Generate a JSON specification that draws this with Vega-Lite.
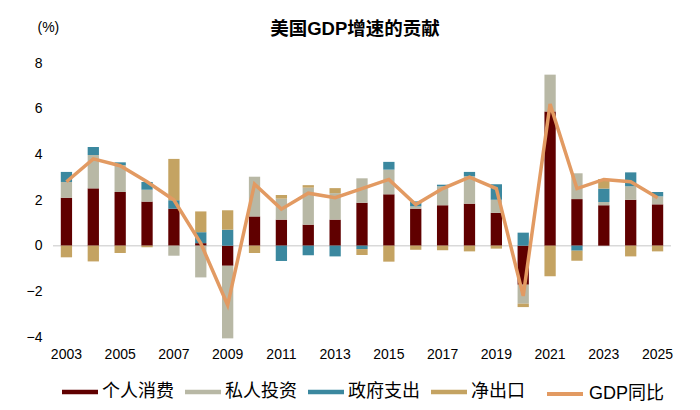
{
  "$schema": "https://vega.github.io/schema/vega-lite/v6.json",
  "autosize": {"type": "none"},
  "padding": {"left": 53, "top": 63, "right": 29, "bottom": 73},
  "width": 618,
  "height": 274,
  "background": "white",
  "title": {
    "text": "美国GDP增速的贡献",
    "fontSize": 18.5,
    "fontWeight": "bold",
    "font": "Liberation Sans, Noto Sans CJK SC",
    "color": "#000000",
    "anchor": "middle",
    "dx": -7,
    "offset": 0,
    "dy": 18
  },
  "datasets": {
    "parts": [
      {"year": 2003, "part": "个人消费", "k": 1, "v": 2.1}, {"year": 2003, "part": "私人投资", "k": 2, "v": 0.69}, {"year": 2003, "part": "政府支出", "k": 3, "v": 0.44}, {"year": 2003, "part": "净出口", "k": 4, "v": -0.51},
      {"year": 2004, "part": "个人消费", "k": 1, "v": 2.51}, {"year": 2004, "part": "私人投资", "k": 2, "v": 1.46}, {"year": 2004, "part": "政府支出", "k": 3, "v": 0.35}, {"year": 2004, "part": "净出口", "k": 4, "v": -0.69},
      {"year": 2005, "part": "个人消费", "k": 1, "v": 2.35}, {"year": 2005, "part": "私人投资", "k": 2, "v": 1.18}, {"year": 2005, "part": "政府支出", "k": 3, "v": 0.12}, {"year": 2005, "part": "净出口", "k": 4, "v": -0.32},
      {"year": 2006, "part": "个人消费", "k": 1, "v": 1.93}, {"year": 2006, "part": "私人投资", "k": 2, "v": 0.52}, {"year": 2006, "part": "政府支出", "k": 3, "v": 0.34}, {"year": 2006, "part": "净出口", "k": 4, "v": -0.07},
      {"year": 2007, "part": "个人消费", "k": 1, "v": 1.62}, {"year": 2007, "part": "私人投资", "k": 2, "v": -0.44}, {"year": 2007, "part": "政府支出", "k": 3, "v": 0.37}, {"year": 2007, "part": "净出口", "k": 4, "v": 1.81},
      {"year": 2008, "part": "个人消费", "k": 1, "v": 0.11}, {"year": 2008, "part": "私人投资", "k": 2, "v": -1.39}, {"year": 2008, "part": "政府支出", "k": 3, "v": 0.48}, {"year": 2008, "part": "净出口", "k": 4, "v": 0.91},
      {"year": 2009, "part": "个人消费", "k": 1, "v": -0.88}, {"year": 2009, "part": "私人投资", "k": 2, "v": -3.18}, {"year": 2009, "part": "政府支出", "k": 3, "v": 0.7}, {"year": 2009, "part": "净出口", "k": 4, "v": 0.85},
      {"year": 2010, "part": "个人消费", "k": 1, "v": 1.28}, {"year": 2010, "part": "私人投资", "k": 2, "v": 1.74}, {"year": 2010, "part": "政府支出", "k": 3, "v": 0.0}, {"year": 2010, "part": "净出口", "k": 4, "v": -0.32},
      {"year": 2011, "part": "个人消费", "k": 1, "v": 1.14}, {"year": 2011, "part": "私人投资", "k": 2, "v": 0.92}, {"year": 2011, "part": "政府支出", "k": 3, "v": -0.67}, {"year": 2011, "part": "净出口", "k": 4, "v": 0.16},
      {"year": 2012, "part": "个人消费", "k": 1, "v": 0.92}, {"year": 2012, "part": "私人投资", "k": 2, "v": 1.62}, {"year": 2012, "part": "政府支出", "k": 3, "v": -0.42}, {"year": 2012, "part": "净出口", "k": 4, "v": 0.11},
      {"year": 2013, "part": "个人消费", "k": 1, "v": 1.14}, {"year": 2013, "part": "私人投资", "k": 2, "v": 1.16}, {"year": 2013, "part": "政府支出", "k": 3, "v": -0.47}, {"year": 2013, "part": "净出口", "k": 4, "v": 0.22},
      {"year": 2014, "part": "个人消费", "k": 1, "v": 1.88}, {"year": 2014, "part": "私人投资", "k": 2, "v": 1.07}, {"year": 2014, "part": "政府支出", "k": 3, "v": -0.15}, {"year": 2014, "part": "净出口", "k": 4, "v": -0.26},
      {"year": 2015, "part": "个人消费", "k": 1, "v": 2.25}, {"year": 2015, "part": "私人投资", "k": 2, "v": 1.08}, {"year": 2015, "part": "政府支出", "k": 3, "v": 0.34}, {"year": 2015, "part": "净出口", "k": 4, "v": -0.7},
      {"year": 2016, "part": "个人消费", "k": 1, "v": 1.62}, {"year": 2016, "part": "私人投资", "k": 2, "v": 0.1}, {"year": 2016, "part": "政府支出", "k": 3, "v": 0.22}, {"year": 2016, "part": "净出口", "k": 4, "v": -0.18},
      {"year": 2017, "part": "个人消费", "k": 1, "v": 1.77}, {"year": 2017, "part": "私人投资", "k": 2, "v": 0.83}, {"year": 2017, "part": "政府支出", "k": 3, "v": 0.07}, {"year": 2017, "part": "净出口", "k": 4, "v": -0.2},
      {"year": 2018, "part": "个人消费", "k": 1, "v": 1.84}, {"year": 2018, "part": "私人投资", "k": 2, "v": 1.2}, {"year": 2018, "part": "政府支出", "k": 3, "v": 0.19}, {"year": 2018, "part": "净出口", "k": 4, "v": -0.25},
      {"year": 2019, "part": "个人消费", "k": 1, "v": 1.44}, {"year": 2019, "part": "私人投资", "k": 2, "v": 0.57}, {"year": 2019, "part": "政府支出", "k": 3, "v": 0.68}, {"year": 2019, "part": "净出口", "k": 4, "v": -0.13},
      {"year": 2020, "part": "个人消费", "k": 1, "v": -1.71}, {"year": 2020, "part": "私人投资", "k": 2, "v": -0.83}, {"year": 2020, "part": "政府支出", "k": 3, "v": 0.57}, {"year": 2020, "part": "净出口", "k": 4, "v": -0.15},
      {"year": 2021, "part": "个人消费", "k": 1, "v": 5.88}, {"year": 2021, "part": "私人投资", "k": 2, "v": 1.61}, {"year": 2021, "part": "政府支出", "k": 3, "v": 0.0}, {"year": 2021, "part": "净出口", "k": 4, "v": -1.34},
      {"year": 2022, "part": "个人消费", "k": 1, "v": 2.04}, {"year": 2022, "part": "私人投资", "k": 2, "v": 1.13}, {"year": 2022, "part": "政府支出", "k": 3, "v": -0.22}, {"year": 2022, "part": "净出口", "k": 4, "v": -0.44},
      {"year": 2023, "part": "个人消费", "k": 1, "v": 1.77}, {"year": 2023, "part": "私人投资", "k": 2, "v": 0.14}, {"year": 2023, "part": "政府支出", "k": 3, "v": 0.59}, {"year": 2023, "part": "净出口", "k": 4, "v": 0.42},
      {"year": 2024, "part": "个人消费", "k": 1, "v": 2.01}, {"year": 2024, "part": "私人投资", "k": 2, "v": 0.59}, {"year": 2024, "part": "政府支出", "k": 3, "v": 0.61}, {"year": 2024, "part": "净出口", "k": 4, "v": -0.47},
      {"year": 2025, "part": "个人消费", "k": 1, "v": 1.81}, {"year": 2025, "part": "私人投资", "k": 2, "v": 0.35}, {"year": 2025, "part": "政府支出", "k": 3, "v": 0.19}, {"year": 2025, "part": "净出口", "k": 4, "v": -0.25}
    ],
    "gdp": [
      {"year": 2003, "gdp": 2.8}, {"year": 2004, "gdp": 3.8}, {"year": 2005, "gdp": 3.5},
      {"year": 2006, "gdp": 2.8}, {"year": 2007, "gdp": 2.0}, {"year": 2008, "gdp": 0.1},
      {"year": 2009, "gdp": -2.6}, {"year": 2010, "gdp": 2.7}, {"year": 2011, "gdp": 1.6},
      {"year": 2012, "gdp": 2.3}, {"year": 2013, "gdp": 2.1}, {"year": 2014, "gdp": 2.5},
      {"year": 2015, "gdp": 2.9}, {"year": 2016, "gdp": 1.8}, {"year": 2017, "gdp": 2.5},
      {"year": 2018, "gdp": 3.0}, {"year": 2019, "gdp": 2.5}, {"year": 2020, "gdp": -2.2},
      {"year": 2021, "gdp": 6.2}, {"year": 2022, "gdp": 2.5}, {"year": 2023, "gdp": 2.9},
      {"year": 2024, "gdp": 2.8}, {"year": 2025, "gdp": 2.1}
    ],
    "zero": [{"z": 0}]
  },
  "encoding": {
    "x": {
      "field": "year",
      "type": "ordinal",
      "scale": {"paddingInner": 0.58, "paddingOuter": 0.29},
      "axis": {
        "title": null,
        "values": [2003, 2005, 2007, 2009, 2011, 2013, 2015, 2017, 2019, 2021, 2023, 2025],
        "labelAngle": 0,
        "labelPadding": 10
      }
    }
  },
  "layer": [
    {
      "data": {"name": "zero"},
      "mark": {"type": "rule", "color": "#d9d9d9", "strokeWidth": 1.5},
      "encoding": {
        "x": null,
        "y": {
          "field": "z",
          "type": "quantitative",
          "scale": {"domain": [-4, 8], "nice": false},
          "axis": {
            "title": "(%)",
            "titleAngle": 0,
            "titleAlign": "left",
            "titleBaseline": "middle",
            "titleX": -16,
            "titleY": -36,
            "values": [-4, -2, 0, 2, 4, 6, 8],
            "labelPadding": 11
          }
        }
      }
    },
    {
      "data": {"name": "parts"},
      "mark": {"type": "bar"},
      "encoding": {
        "y": {
          "field": "v",
          "type": "quantitative",
          "stack": "zero",
          "axis": {
            "title": "(%)",
            "titleAngle": 0,
            "titleAlign": "left",
            "titleBaseline": "middle",
            "titleX": -16,
            "titleY": -36,
            "values": [-4, -2, 0, 2, 4, 6, 8],
            "labelPadding": 11
          }
        },
        "order": {"field": "k", "type": "quantitative", "sort": "ascending"},
        "fill": {
          "field": "part",
          "type": "nominal",
          "scale": {
            "domain": ["个人消费", "私人投资", "政府支出", "净出口"],
            "range": ["#600000", "#B8B8A5", "#3B889F", "#C4A362"]
          },
          "legend": {
            "orient": "none",
            "legendX": 9,
            "legendY": 311,
            "direction": "horizontal",
            "title": null,
            "values": ["个人消费", "私人投资", "政府支出", "净出口"],
            "symbolType": "M-1,-0.125H1V0.125H-1Z",
            "symbolSize": 1296,
            "symbolStrokeWidth": 0,
            "symbolOpacity": 1,
            "labelFontSize": 18,
            "labelOffset": 4,
            "columnPadding": 11
          }
        }
      }
    },
    {
      "data": {"name": "gdp"},
      "mark": {"type": "line", "strokeWidth": 3.5},
      "encoding": {
        "y": {
          "field": "gdp",
          "type": "quantitative",
          "axis": {
            "title": "(%)",
            "titleAngle": 0,
            "titleAlign": "left",
            "titleBaseline": "middle",
            "titleX": -16,
            "titleY": -36,
            "values": [-4, -2, 0, 2, 4, 6, 8],
            "labelPadding": 11
          }
        },
        "stroke": {
          "datum": "GDP同比",
          "scale": {"domain": ["GDP同比"], "range": ["#E29A62"]},
          "legend": {
            "orient": "none",
            "legendX": 492,
            "legendY": 311,
            "title": null,
            "symbolType": "stroke",
            "symbolSize": 1296,
            "symbolStrokeWidth": 4,
            "labelFontSize": 18,
            "labelOffset": 4
          }
        }
      }
    }
  ],
  "config": {
    "font": "Liberation Sans, Noto Sans CJK SC",
    "view": {"stroke": null},
    "axis": {
      "domain": false,
      "ticks": false,
      "grid": false,
      "labelFont": "Liberation Sans, Noto Sans CJK SC",
      "labelFontSize": 14,
      "labelColor": "#000000",
      "titleFont": "Liberation Sans, Noto Sans CJK SC",
      "titleFontSize": 14,
      "titleFontWeight": "normal",
      "titleColor": "#000000"
    },
    "legend": {
      "labelFont": "Liberation Sans, Noto Sans CJK SC",
      "labelColor": "#000000",
      "padding": 0
    }
  }
}
